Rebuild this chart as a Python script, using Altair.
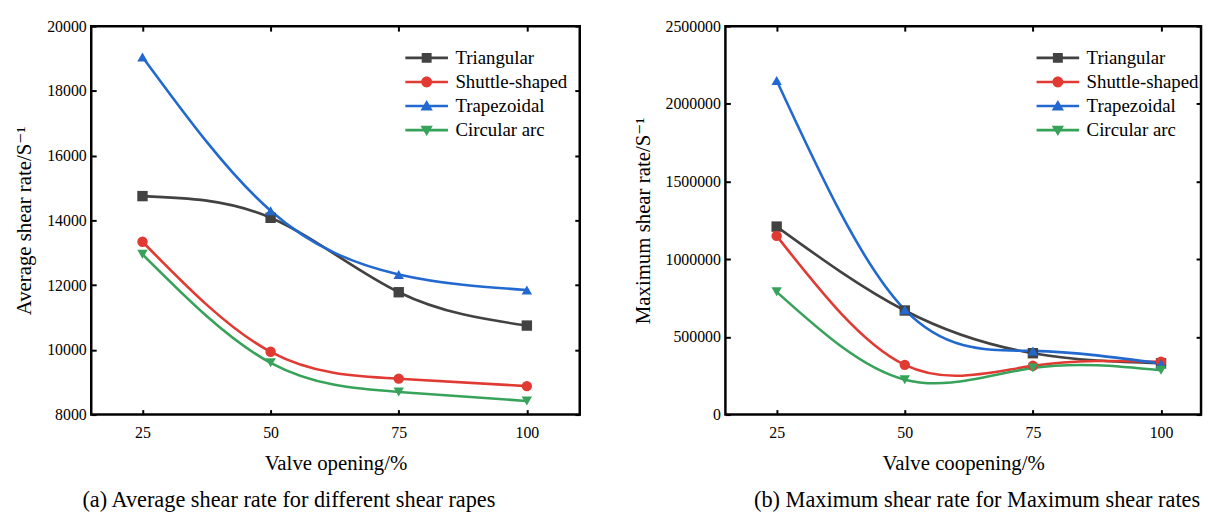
import altair as alt
import pandas as pd

openings = [25, 50, 75, 100]
series = ["Triangular", "Shuttle-shaped", "Trapezoidal", "Circular arc"]

avg_triangular = [14750, 14080, 11780, 10750]
avg_shuttle = [13340, 9940, 9110, 8880]
avg_trapezoidal = [19050, 14300, 12330, 11850]
avg_circular = [12950, 9600, 8700, 8420]

max_triangular = [1210000, 670000, 395000, 330000]
max_shuttle = [1150000, 320000, 314000, 340000]
max_trapezoidal = [2150000, 675000, 410000, 328000]
max_circular = [790000, 225000, 300000, 285000]

avg_ticks = [8000, 10000, 12000, 14000, 16000, 18000, 20000]
max_ticks = [0, 500000, 1000000, 1500000, 2000000, 2500000]

colors = ["#424242", "#e03a33", "#2169cf", "#37a35a"]
marker_shapes = ["square", "circle", "triangle-up", "triangle-down"]
BAR = "M-2.15,-0.13H2.15V0.13H-2.15Z "
legend_paths = [
    BAR + "M-0.5,-0.5H0.5V0.5H-0.5Z",
    BAR + "M0.55,0A0.55,0.55 0 1,1 -0.55,0A0.55,0.55 0 1,1 0.55,0Z",
    BAR + "M0,-0.6L0.62,0.45L-0.62,0.45Z",
    BAR + "M0,0.6L-0.62,-0.45L0.62,-0.45Z",
]

FONT = "'Times New Roman', 'Liberation Serif', 'DejaVu Serif', serif"


def make_df(vals_list):
    rows = []
    for name, vals in zip(series, vals_list):
        for x, v in zip(openings, vals):
            rows.append({"opening": x, "value": v, "series": name})
    return pd.DataFrame(rows)


def panel(df, ydomain, yticks, ytitle, xtitle, caption, width, xmax, cap_dx, leg_x):
    xs = alt.Scale(domain=[15, xmax], nice=False, zero=False)
    ys = alt.Scale(domain=ydomain, nice=False, zero=False)
    cs = alt.Scale(domain=series, range=colors)
    common = dict(offset=-5, tickSize=5, tickWidth=2, tickColor="black",
                  domain=False, grid=False)
    x_main = alt.X("opening:Q", scale=xs, axis=alt.Axis(
        values=openings, orient="bottom", labelPadding=10, title=xtitle,
        titlePadding=12, labelFont=FONT, labelFontSize=16, labelColor="black",
        titleFont=FONT, titleFontSize=21, titleFontWeight="normal",
        titleColor="black", **common))
    y_main = alt.Y("value:Q", scale=ys, axis=alt.Axis(
        values=yticks, format="d", orient="left", labelPadding=5, title=ytitle,
        titlePadding=12, labelFont=FONT, labelFontSize=16, labelColor="black",
        titleFont=FONT, titleFontSize=21, titleFontWeight="normal",
        titleColor="black", **common))
    x_top = alt.X("opening:Q", scale=xs, axis=alt.Axis(
        values=openings, orient="top", labels=False, title=None, **common))
    y_right = alt.Y("value:Q", scale=ys, axis=alt.Axis(
        values=yticks, orient="right", labels=False, title=None, **common))
    x_none = alt.X("opening:Q", scale=xs, axis=None)
    y_none = alt.Y("value:Q", scale=ys, axis=None)

    base = alt.Chart(df)
    lines = base.mark_line(interpolate="natural", strokeWidth=2.6).encode(
        x=x_main, y=y_main,
        color=alt.Color("series:N", scale=cs, legend=None))
    points = base.mark_point(filled=True, size=110, opacity=1).encode(
        x=x_none, y=y_none,
        color=alt.Color("series:N", scale=cs, legend=None),
        shape=alt.Shape("series:N", scale=alt.Scale(domain=series, range=marker_shapes),
                        legend=None))
    leg = dict(title=None, orient="none", legendX=leg_x, legendY=22, symbolSize=400,
               labelOffset=19, labelFont=FONT, labelFontSize=19, labelColor="black",
               rowPadding=4.3, padding=0, symbolStrokeWidth=0, symbolOpacity=1,
               labelLimit=300)
    legend_layer = base.transform_filter(alt.datum.value < -1).mark_point(
        filled=True).encode(
        x=x_none, y=y_none,
        color=alt.Color("series:N", scale=alt.Scale(domain=series, range=colors),
                        legend=alt.Legend(**leg)),
        shape=alt.Shape("series:N", scale=alt.Scale(domain=series, range=legend_paths),
                        legend=alt.Legend(**leg)))
    axes_layer = base.transform_filter(alt.datum.value < -1).mark_point().encode(
        x=x_top, y=y_right)

    return alt.layer(lines, points, legend_layer, axes_layer).resolve_scale(
        shape="independent", color="independent").resolve_axis(
        x="independent", y="independent").properties(
        width=width, height=392,
        title=alt.TitleParams(caption, orient="bottom", anchor="middle", frame="group",
                              dx=cap_dx, offset=16, font=FONT, fontSize=22.5,
                              fontWeight="normal", color="black"))


left = panel(make_df([avg_triangular, avg_shuttle, avg_trapezoidal, avg_circular]),
             [8000, 20000], avg_ticks, "Average shear rate/S\u207b\u00b9",
             "Valve opening/%", "(a)  Average shear rate for different shear rapes",
             493, 15 + 493 / 5.172, -47, 328.5)
right = panel(make_df([max_triangular, max_shuttle, max_trapezoidal, max_circular]),
              [0, 2500000], max_ticks, "Maximum shear rate/S\u207b\u00b9",
              "Valve coopening/%", "(b)  Maximum shear rate for Maximum shear rates",
              480, 15 + 480 / 5.172, 14, 325.5)

chart = alt.hconcat(left, right, spacing=48).resolve_scale(
    color="independent", shape="independent", x="independent", y="independent"
).resolve_legend(color="independent", shape="independent").properties(
    padding={"left": 4, "top": 6, "right": 0, "bottom": 0}, background="white"
).configure(font=FONT).configure_view(stroke="black", strokeWidth=2.5)

chart.save("out.html", embed_options={"renderer": "svg", "actions": False})
